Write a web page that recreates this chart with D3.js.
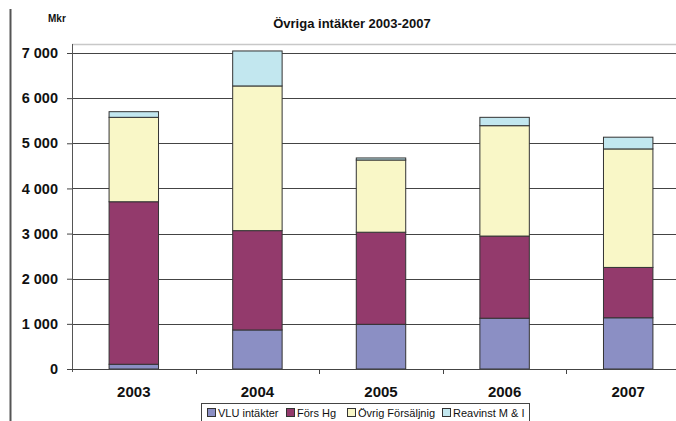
<!DOCTYPE html>
<meta charset="utf-8" />
<script src="https://d3js.org/d3.v7.min.js"></script>
<style>
  body { margin: 0; background: #fff; }
  text { font-family: "Liberation Sans", Arial, sans-serif; }
</style>
<body>
  <div id="my_dataviz"></div>
</body>
<script>
  // data (Mkr)
  var years = ["2003", "2004", "2005", "2006", "2007"];
  var seriesNames = ["VLU intäkter", "Förs Hg", "Övrig Försäljnig", "Reavinst M & I"];
  var vlu = [105, 865, 990, 1125, 1135];
  var forsHg = [3600, 2200, 2040, 1820, 1115];
  var ovrig = [1870, 3205, 1600, 2445, 2625];
  var reavinst = [125, 775, 45, 185, 260];
  var yTicks = [0, 1000, 2000, 3000, 4000, 5000, 6000, 7000];
  var colors = ["#8b8fc4", "#933a6c", "#f9f7c7", "#c2e7ef"];

  var W = 676, H = 421;
  var margin = { top: 44, left: 72, bottom: 52 };
  var plotW = 618, y0 = 369, yTop = 53;

  var svg = d3.select("#my_dataviz").append("svg")
    .attr("width", W).attr("height", H);

  // page border line on the left
  svg.append("line").attr("x1", 10.5).attr("x2", 10.5).attr("y1", 9).attr("y2", H)
    .attr("stroke", "#555").attr("stroke-width", 2);

  // table for the stack
  var table = years.map(function (yr, i) {
    return { year: yr, "VLU intäkter": vlu[i], "Förs Hg": forsHg[i],
      "Övrig Försäljnig": ovrig[i], "Reavinst M & I": reavinst[i] };
  });
  var stacked = d3.stack().keys(seriesNames)(table);

  var x = d3.scaleBand().domain(years).range([margin.left, margin.left + plotW])
    .paddingInner(0.6).paddingOuter(0.3);
  var xOuter = d3.scaleBand().domain(years).range([margin.left, margin.left + plotW]);
  var y = d3.scaleLinear().domain([0, 7000]).range([y0, yTop]);

  // top border of plot area
  svg.append("line").attr("x1", margin.left).attr("x2", W).attr("y1", 44.5).attr("y2", 44.5)
    .attr("stroke", "#c8c8c8").attr("stroke-width", 1.5);

  // gridlines
  svg.append("g").selectAll("line").data(yTicks.filter(function (d) { return d > 0; }))
    .enter().append("line")
    .attr("x1", margin.left).attr("x2", W)
    .attr("y1", function (d) { return Math.round(y(d)) + 0.5; })
    .attr("y2", function (d) { return Math.round(y(d)) + 0.5; })
    .attr("stroke", "#444").attr("stroke-width", 1);

  // bars
  svg.append("g").selectAll("g").data(stacked).enter().append("g")
    .attr("fill", function (d, i) { return colors[i]; })
    .selectAll("rect").data(function (d) { return d; }).enter().append("rect")
    .attr("x", function (d) { return x(d.data.year); })
    .attr("width", x.bandwidth())
    .attr("y", function (d) { return y(d[1]); })
    .attr("height", function (d) { return y(d[0]) - y(d[1]); })
    .attr("stroke", "#333").attr("stroke-width", 1);

  // y axis
  var yAxis = svg.append("g").attr("transform", "translate(" + margin.left + ",0)")
    .call(d3.axisLeft(y).tickValues(yTicks).tickSize(5).tickPadding(9)
      .tickFormat(function (d) { return d3.format(",")(d).replace(",", " "); }));
  yAxis.select(".domain").attr("d", "M0.5,44V372").attr("stroke", "#555");
  yAxis.selectAll(".tick line").attr("stroke", "#444");
  yAxis.selectAll("text").attr("font-size", 14.5).attr("font-weight", "bold")
    .attr("fill", "#111").style("font-family", "Liberation Sans, Arial, sans-serif");

  // x axis
  var xAxis = svg.append("g").attr("transform", "translate(0," + y0 + ")");
  xAxis.append("line").attr("x1", margin.left).attr("x2", W).attr("y1", 0.5).attr("y2", 0.5)
    .attr("stroke", "#444");
  xAxis.selectAll(".sep").data(years.slice(1)).enter().append("line")
    .attr("x1", function (d) { return Math.round(xOuter(d)) + 0.5; })
    .attr("x2", function (d) { return Math.round(xOuter(d)) + 0.5; })
    .attr("y1", 0).attr("y2", 5).attr("stroke", "#444");
  xAxis.selectAll(".lbl").data(years).enter().append("text")
    .attr("x", function (d) { return x(d) + x.bandwidth() / 2; })
    .attr("y", 28).attr("text-anchor", "middle")
    .attr("font-size", 15).attr("font-weight", "bold").attr("fill", "#111")
    .text(function (d) { return d; });

  // title and unit
  svg.append("text").attr("x", 352).attr("y", 28).attr("text-anchor", "middle")
    .attr("font-size", 13).attr("font-weight", "bold").attr("fill", "#111")
    .text("Övriga intäkter 2003-2007");
  svg.append("text").attr("x", 48).attr("y", 22)
    .attr("font-size", 10).attr("font-weight", "bold").attr("fill", "#111")
    .text("Mkr");

  // legend
  var legend = svg.append("g");
  legend.append("rect").attr("x", 201.5).attr("y", 403.5).attr("width", 328).attr("height", 19)
    .attr("fill", "#fff").attr("stroke", "#444");
  var legX = [207, 286, 347, 442];
  var items = legend.selectAll(".item").data(seriesNames).enter().append("g")
    .attr("transform", function (d, i) { return "translate(" + legX[i] + ",408)"; });
  items.append("rect").attr("x", 0.5).attr("y", 0.5).attr("width", 8).attr("height", 8)
    .attr("fill", function (d, i) { return colors[i]; }).attr("stroke", "#333");
  items.append("text").attr("x", 11).attr("y", 9)
    .attr("font-size", 11).attr("fill", "#111")
    .text(function (d) { return d; });
</script>
